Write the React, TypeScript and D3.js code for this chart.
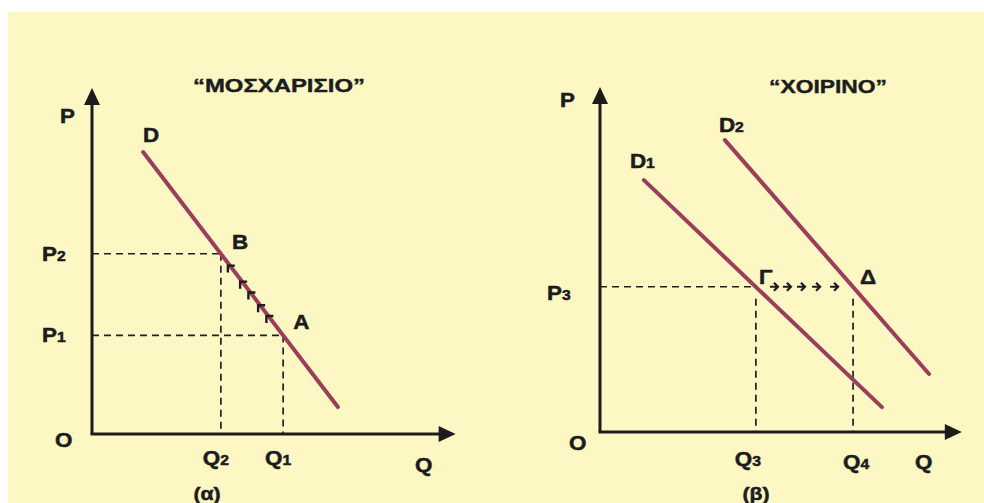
import React from "react";
import * as d3 from "d3";

// Τίτλοι και λεζάντες των δύο διαγραμμάτων
const titles = ["“ΜΟΣΧΑΡΙΣΙΟ”", "“ΧΟΙΡΙΝΟ”"];
const captions = ["(α)", "(β)"];

// Καμπύλες ζήτησης (q, p)
const demandA = [[1.42, 8.15], [6.83, 0.78]];
const demandB1 = [[1.22, 7.3], [7.83, 0.72]];
const demandB2 = [[3.47, 8.46], [9.14, 1.68]];

// Σημεία ισορροπίας
const pointsA = [
  { name: "B", q: 3.58, p: 5.21 },
  { name: "A", q: 5.31, p: 2.85 },
];
const pointsB = [
  { name: "Γ", q: 4.33, p: 4.21 },
  { name: "Δ", q: 7.03, p: 4.21 },
];

// Ετικέτες αξόνων
const priceTicksA = [
  { base: "P", sub: "2", p: 5.21 },
  { base: "P", sub: "1", p: 2.85 },
];
const qtyTicksA = [
  { base: "Q", sub: "2", q: 3.58 },
  { base: "Q", sub: "1", q: 5.31 },
];
const priceTicksB = [{ base: "P", sub: "3", p: 4.21 }];
const qtyTicksB = [
  { base: "Q", sub: "3", q: 4.33 },
  { base: "Q", sub: "4", q: 7.03 },
];

// Βελάκια μετακίνησης (θέσεις q)
const moveA = [3.83, 4.17, 4.4, 4.67, 4.9];
const moveB = [4.86, 5.22, 5.61, 6.03, 6.53];

const BG = "#fcf7c3";
const INK = "#1c1c1c";
const CURVE = "#9c3d5c";
const FONT = "'Liberation Sans', Arial, sans-serif";

const Label = ({ x, y, base, sub, anchor = "start", size = 20 }) => (
  <text
    transform={`translate(${x},${y}) scale(1.12,1)`}
    textAnchor={anchor}
    fontSize={size}
    fontWeight="bold"
    fill={INK}
    stroke={INK}
    strokeWidth={0.5}
  >
    {base}
    {sub && <tspan fontSize={14}>{sub}</tspan>}
  </text>
);

const Axes = ({ x, y, xMax, yMax }) => {
  const ox = x(0);
  const oy = y(0);
  const tx = x(xMax);
  const ty = y(yMax);
  return (
    <g>
      <line x1={ox} y1={oy} x2={ox} y2={ty + 10} stroke={INK} strokeWidth={3} />
      <line x1={ox - 1.5} y1={oy} x2={tx - 10} y2={oy} stroke={INK} strokeWidth={3} />
      <path d={`M${ox},${ty} L${ox - 8},${ty + 17} L${ox + 8},${ty + 17} Z`} fill={INK} />
      <path d={`M${tx},${oy} L${tx - 17},${oy - 8} L${tx - 17},${oy + 8} Z`} fill={INK} />
    </g>
  );
};

export default function App() {
  const xA = d3.scaleLinear().domain([0, 10]).range([92, 452]);
  const yA = d3.scaleLinear().domain([0, 10]).range([434, 88]);
  const xB = d3.scaleLinear().domain([0, 10]).range([600, 960]);
  const yB = d3.scaleLinear().domain([0, 10]).range([432, 87]);

  const lineA = d3.line().x((d) => xA(d[0])).y((d) => yA(d[1]));
  const lineB = d3.line().x((d) => xB(d[0])).y((d) => yB(d[1]));

  // τιμή p πάνω στην D για δεδομένο q
  const onDemandA = d3
    .scaleLinear()
    .domain([demandA[0][0], demandA[1][0]])
    .range([demandA[0][1], demandA[1][1]]);

  const dash = { stroke: "#222", strokeWidth: 1.7, strokeDasharray: "7,5" };

  return (
    <svg
      width={984}
      height={503}
      style={{ position: "absolute", left: 0, top: 0, fontFamily: FONT }}
    >
      <rect x={0} y={0} width={984} height={503} fill="#ffffff" />
      <rect x={8} y={12} width={976} height={491} fill={BG} />

      {/* ---------- (α) ---------- */}
      <text
        x={193}
        y={92}
        textLength={172}
        lengthAdjust="spacingAndGlyphs"
        fontSize={18}
        fontWeight="bold"
        fill={INK}
        stroke={INK}
        strokeWidth={0.4}
      >
        {titles[0]}
      </text>

      {pointsA.map((d) => (
        <g key={d.name}>
          <line x1={xA(0)} y1={yA(d.p)} x2={xA(d.q)} y2={yA(d.p)} {...dash} />
          <line x1={xA(d.q)} y1={yA(d.p)} x2={xA(d.q)} y2={yA(0)} {...dash} />
        </g>
      ))}

      <Axes x={xA} y={yA} xMax={10.1} yMax={10} />

      <path d={lineA(demandA)} stroke={CURVE} strokeWidth={4} strokeLinecap="round" fill="none" />

      {moveA.map((q, i) => {
        const cx = xA(q) - 2;
        const cy = yA(onDemandA(q));
        return (
          <path
            key={i}
            d={`M${cx + 7},${cy} L${cx},${cy} L${cx},${cy + 7}`}
            stroke={INK}
            strokeWidth={2.4}
            fill="none"
          />
        );
      })}

      <Label x={xA(demandA[0][0])} y={yA(demandA[0][1]) - 10} base="D" />
      <Label x={xA(pointsA[0].q) + 11} y={yA(pointsA[0].p) - 5} base={pointsA[0].name} />
      <Label x={xA(pointsA[1].q) + 10} y={yA(pointsA[1].p) - 6} base={pointsA[1].name} />

      {priceTicksA.map((t) => (
        <Label key={t.sub} x={xA(0) - 50} y={yA(t.p) + 7} base={t.base} sub={t.sub} />
      ))}
      {qtyTicksA.map((t) => (
        <Label key={t.sub} x={xA(t.q) - 5} y={yA(0) + 31} base={t.base} sub={t.sub} anchor="middle" />
      ))}

      <Label x={xA(0) - 32} y={yA(10) + 35} base="P" />
      <Label x={xA(0) - 37} y={yA(0) + 13} base="O" />
      <Label x={415} y={yA(0) + 38} base="Q" />
      <Label x={207} y={500} base={captions[0]} anchor="middle" size={19} />

      {/* ---------- (β) ---------- */}
      <text
        x={769}
        y={93}
        textLength={118}
        lengthAdjust="spacingAndGlyphs"
        fontSize={18}
        fontWeight="bold"
        fill={INK}
        stroke={INK}
        strokeWidth={0.4}
      >
        {titles[1]}
      </text>

      <line x1={xB(0)} y1={yB(pointsB[0].p)} x2={xB(pointsB[0].q)} y2={yB(pointsB[0].p)} {...dash} />
      {pointsB.map((d) => (
        <line key={d.name} x1={xB(d.q)} y1={yB(d.p) + 12} x2={xB(d.q)} y2={yB(0)} {...dash} />
      ))}

      <Axes x={xB} y={yB} xMax={10.05} yMax={10} />

      <path d={lineB(demandB1)} stroke={CURVE} strokeWidth={4} strokeLinecap="round" fill="none" />
      <path d={lineB(demandB2)} stroke={CURVE} strokeWidth={4} strokeLinecap="round" fill="none" />

      {moveB.map((q, i) => {
        const cx = xB(q);
        const cy = yB(pointsB[0].p);
        return (
          <path
            key={i}
            d={`M${cx - 5},${cy} L${cx + 3},${cy} M${cx - 1},${cy - 4} L${cx + 3},${cy} L${cx - 1},${cy + 4}`}
            stroke={INK}
            strokeWidth={2.2}
            fill="none"
          />
        );
      })}

      <Label x={xB(demandB1[0][0]) - 14} y={yB(demandB1[0][1]) - 12} base="D" sub="1" />
      <Label x={xB(demandB2[0][0]) - 6} y={yB(demandB2[0][1]) - 8} base="D" sub="2" />
      <Label x={xB(pointsB[0].q) + 3} y={yB(pointsB[0].p) - 3} base={pointsB[0].name} />
      <Label x={xB(pointsB[1].q) + 7} y={yB(pointsB[1].p) - 3} base={pointsB[1].name} />

      {priceTicksB.map((t) => (
        <Label key={t.sub} x={xB(0) - 53} y={yB(t.p) + 13} base={t.base} sub={t.sub} />
      ))}
      {qtyTicksB.map((t, i) => (
        <Label
          key={t.sub}
          x={xB(t.q) + (i === 0 ? -8 : 3)}
          y={yB(0) + 34 + i * 3}
          base={t.base}
          sub={t.sub}
          anchor="middle"
        />
      ))}

      <Label x={xB(0) - 40} y={yB(10) + 20} base="P" />
      <Label x={xB(0) - 31} y={yB(0) + 18} base="O" />
      <Label x={915} y={yB(0) + 37} base="Q" />
      <Label x={756} y={500} base={captions[1]} anchor="middle" size={19} />
    </svg>
  );
}
